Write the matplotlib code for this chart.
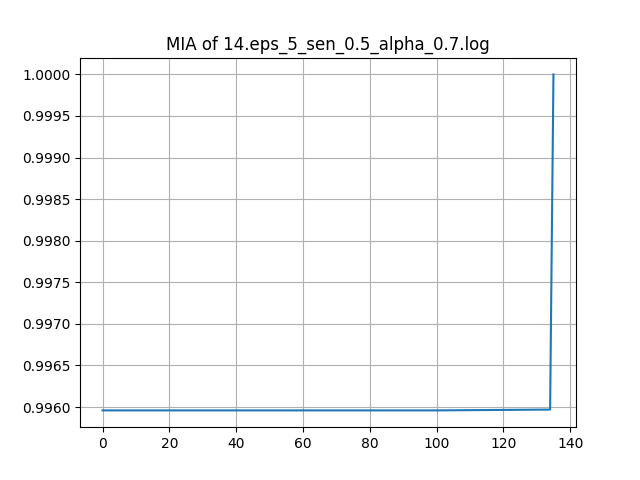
import matplotlib
matplotlib.use("Agg")
import matplotlib.pyplot as plt

x = [0, 50, 100, 134, 135]
y = [0.99596, 0.99596, 0.99596, 0.99597, 1.0]

fig, ax = plt.subplots(figsize=(6.4, 4.8), dpi=100)
ax.plot(x, y)
ax.set_title("MIA of 14.eps_5_sen_0.5_alpha_0.7.log")
ax.grid(True)
ax.ticklabel_format(useOffset=False)
fig.savefig("out.png")
